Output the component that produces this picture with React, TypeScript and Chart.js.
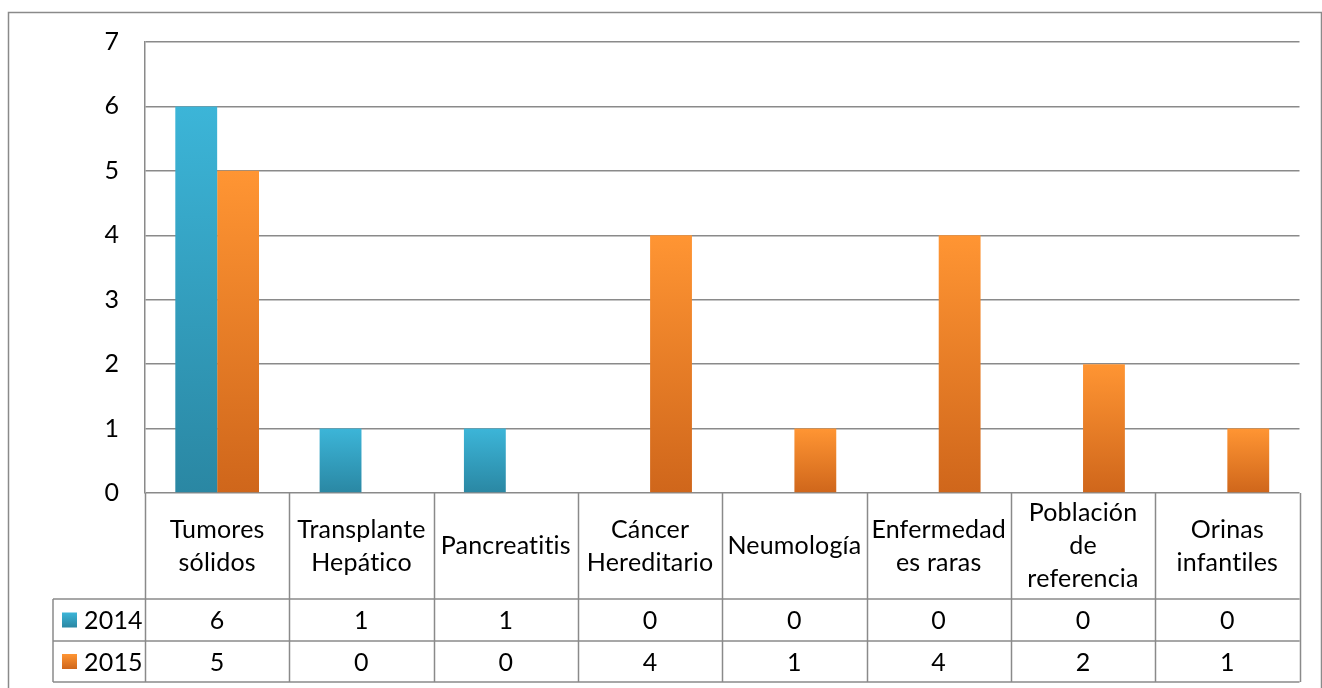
import React, { useEffect, useRef } from "react";
import { Chart, registerables } from "chart.js";

Chart.register(...registerables);

// ---- data ----
const categories: string[][] = [
  ["Tumores", "sólidos"],
  ["Transplante", "Hepático"],
  ["Pancreatitis"],
  ["Cáncer", "Hereditario"],
  ["Neumología"],
  ["Enfermedad", "es raras"],
  ["Población", "de", "referencia"],
  ["Orinas", "infantiles"],
];
const seriesNames = ["2014", "2015"];
const values2014 = [6, 1, 1, 0, 0, 0, 0, 0];
const values2015 = [5, 0, 0, 4, 1, 4, 2, 1];
const yMin = 0;
const yMax = 7;
const yStep = 1;

// ---- styles ----
const FONT = "Lato, 'Open Sans', sans-serif";
const FS = 25;
const GRID = "#8a8a8a";
const GRID_W = 1.5;
const seriesColors = [
  { top: "#3CB5D8", bottom: "#2A87A3" },
  { top: "#FF9533", bottom: "#CF661B" },
];

function barGradient(seriesIdx: number) {
  return (ctx: any) => {
    const c = seriesColors[seriesIdx];
    const chart = ctx.chart;
    const ys = chart.scales && chart.scales.y;
    if (!ys || ctx.type !== "data") return c.top;
    const v = Number(ctx.raw);
    const top = ys.getPixelForValue(v);
    const base = ys.getPixelForValue(0);
    if (!isFinite(top) || !isFinite(base) || Math.abs(base - top) < 1) return c.top;
    const g = chart.ctx.createLinearGradient(0, top, 0, base);
    g.addColorStop(0, c.top);
    g.addColorStop(1, c.bottom);
    return g;
  };
}

const tablePlugin = {
  id: "dataTable",
  afterDraw(chart: any) {
    const { ctx } = chart;
    const xs = chart.scales.x;
    const ys = chart.scales.y;
    const n = categories.length;
    const step = xs.getPixelForValue(1) - xs.getPixelForValue(0);
    const left = xs.getPixelForValue(0) - step / 2;
    const right = xs.getPixelForValue(n - 1) + step / 2;
    const top = ys.getPixelForValue(0);
    const headerBottom = top + 106;
    const row1Bottom = headerBottom + 42;
    const row2Bottom = row1Bottom + 41;
    const legendLeft = 53;
    const series = [values2014, values2015];

    ctx.save();
    // outer chart border
    ctx.strokeStyle = GRID;
    ctx.lineWidth = 1.5;
    ctx.strokeRect(8.5, 12.5, 1313, 700);

    // table lines
    ctx.strokeStyle = GRID;
    ctx.lineWidth = GRID_W;
    ctx.beginPath();
    for (let i = 0; i <= n; i++) {
      const x = Math.round(left + i * step) + 0.5;
      ctx.moveTo(x, top);
      ctx.lineTo(x, row2Bottom);
    }
    ctx.moveTo(legendLeft, headerBottom);
    ctx.lineTo(legendLeft, row2Bottom);
    for (const yy of [headerBottom, row1Bottom, row2Bottom]) {
      ctx.moveTo(legendLeft, yy);
      ctx.lineTo(right, yy);
    }
    ctx.stroke();

    // header labels
    ctx.fillStyle = "#000";
    ctx.font = `${FS}px ${FONT}`;
    try {
      (ctx as any).letterSpacing = "0.2px";
    } catch (e) {}
    ctx.textAlign = "center";
    ctx.textBaseline = "middle";
    const lh = 33;
    const hc = (top + headerBottom) / 2;
    categories.forEach((lines, i) => {
      const cx = xs.getPixelForValue(i);
      const y0 = hc - ((lines.length - 1) * lh) / 2;
      lines.forEach((t, k) => ctx.fillText(t, cx, y0 + k * lh));
    });

    // rows
    const rowCenters = [(headerBottom + row1Bottom) / 2, (row1Bottom + row2Bottom) / 2];
    series.forEach((vals, s) => {
      const cy = rowCenters[s];
      ctx.textAlign = "center";
      vals.forEach((v, i) => ctx.fillText(String(v), xs.getPixelForValue(i), cy + 1));
      // legend key
      const sq = 15;
      const sx = 62;
      const sy = cy - sq / 2;
      const g = ctx.createLinearGradient(0, sy, 0, sy + sq);
      g.addColorStop(0, seriesColors[s].top);
      g.addColorStop(1, seriesColors[s].bottom);
      ctx.fillStyle = g;
      ctx.fillRect(sx, sy, sq, sq);
      ctx.fillStyle = "#000";
      ctx.textAlign = "left";
      ctx.fillText(seriesNames[s], 84, cy + 1);
    });
    ctx.restore();
  },
};

export default function App() {
  const ref = useRef<HTMLCanvasElement | null>(null);
  useEffect(() => {
    document.body.style.margin = "0";
    document.body.style.overflow = "hidden";
    const canvas = ref.current;
    if (!canvas) return;
    const chart = new Chart(canvas, {
      type: "bar",
      data: {
        labels: categories.map((c) => c.join(" ")),
        datasets: [
          {
            label: seriesNames[0],
            data: values2014,
            backgroundColor: barGradient(0),
            borderWidth: 0,
            barPercentage: 1,
            categoryPercentage: 0.58,
          },
          {
            label: seriesNames[1],
            data: values2015,
            backgroundColor: barGradient(1),
            borderWidth: 0,
            barPercentage: 1,
            categoryPercentage: 0.58,
          },
        ],
      },
      options: {
        animation: false,
        responsive: true,
        maintainAspectRatio: false,
        layout: { padding: { left: 0, top: 42, right: 22.5, bottom: 195 } },
        plugins: { legend: { display: false }, tooltip: { enabled: false } },
        scales: {
          x: { display: false },
          y: {
            min: yMin,
            max: yMax,
            ticks: {
              stepSize: yStep,
              color: "#000",
              padding: 26,
              font: { family: FONT, size: FS },
            },
            grid: { color: GRID, lineWidth: GRID_W, drawTicks: false },
            border: { display: true, color: GRID, width: GRID_W },
            afterFit: (scale: any) => {
              scale.width = 145;
            },
          },
        },
      },
      plugins: [tablePlugin],
    });
    return () => chart.destroy();
  }, []);
  return (
    <div style={{ width: 1322, height: 688, position: "relative" }}>
      <canvas ref={ref} />
    </div>
  );
}
